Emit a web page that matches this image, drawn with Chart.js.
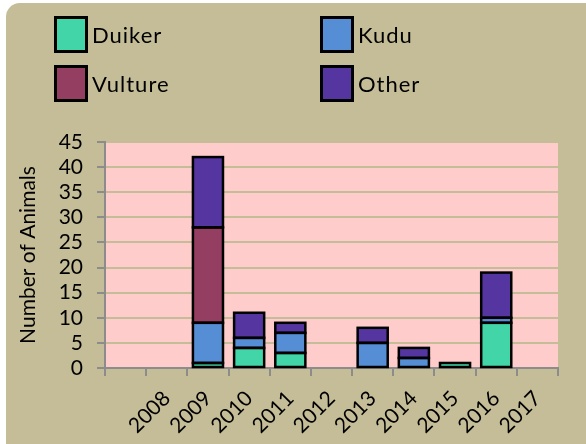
<!DOCTYPE html>
<html><head><meta charset="utf-8">
<script src="https://cdn.jsdelivr.net/npm/chart.js@4/dist/chart.umd.min.js"></script>
<style>
html,body{margin:0;padding:0;background:#fff;width:586px;height:444px;overflow:hidden;font-family:Lato,sans-serif;}
#bg{position:absolute;left:6px;top:3px;width:620px;height:480px;background:#C4BD97;border-top-left-radius:14px;}
#wrap{position:absolute;left:0;top:0;width:586px;height:444px;}
#legend{position:absolute;left:0;top:0;}
.li{position:absolute;display:flex;align-items:center;font-size:22px;letter-spacing:1px;color:#000;}
.sw{width:28px;height:31px;border:3px solid #000;margin-right:4px;box-sizing:content-box;}
</style></head>
<body>
<div id="bg"></div>
<div id="wrap"><canvas id="c" width="586" height="444"></canvas></div>
<div id="legend"></div>
<script>
const categories = ["", "2008", "2009", "2010", "2011", "2012", "2013", "2014", "2015", "2016", "2017"];
const duiker  = [null, null, 1, 4, 3, null, null, null, 1, 9, null];
const kudu    = [null, null, 8, 2, 4, null, 5, 2, null, 1, null];
const vulture = [null, null, 19, null, null, null, null, null, null, null, null];
const other   = [null, null, 14, 5, 2, null, 3, 2, null, 9, null];
const seriesNames = ["Duiker", "Kudu", "Vulture", "Other"];
const seriesColors = ["#41D5A7", "#558ED5", "#943E62", "#5535A0"];
const yTicks = [0, 5, 10, 15, 20, 25, 30, 35, 40, 45];

const seriesData = [duiker, kudu, vulture, other];
const datasets = seriesNames.map((n, i) => ({
  label: n, data: seriesData[i], backgroundColor: seriesColors[i],
  borderWidth: 0, borderSkipped: false,
  categoryPercentage: 1, barPercentage: 0.73
}));

const plotBg = {
  id: "plotBg",
  beforeDraw(chart) {
    const a = chart.chartArea, ctx = chart.ctx;
    ctx.save(); ctx.fillStyle = "#FFCCCC";
    ctx.fillRect(a.left, a.top, a.right - a.left, a.bottom - a.top);
    ctx.restore();
  }
};
const barOutline = {
  id: "barOutline",
  afterDatasetsDraw(chart) {
    const ctx = chart.ctx;
    ctx.save(); ctx.strokeStyle = "#000"; ctx.lineWidth = 2.5;
    chart.data.datasets.forEach((d, i) => {
      chart.getDatasetMeta(i).data.forEach((el, j) => {
        if (d.data[j] == null) return;
        const p = el.getProps(["x", "y", "base", "width"], true);
        ctx.strokeRect(p.x - p.width / 2, Math.min(p.y, p.base), p.width, Math.abs(p.base - p.y));
      });
    });
    ctx.restore();
  }
};

const yScaleTicks = { color: "#000", font: { family: "Lato", size: 21 }, padding: 14, stepSize: 5, autoSkip: false };

function build() {
  const chart = new Chart(document.getElementById("c"), {
    type: "bar",
    data: { labels: categories, datasets },
    plugins: [plotBg, barOutline],
    options: {
      responsive: false, animation: false,
      layout: { padding: { top: 142, right: 28, left: 0, bottom: 0 } },
      plugins: { legend: { display: false }, tooltip: { enabled: false } },
      scales: {
        x: {
          stacked: true,
          afterFit(s) { s.height = 76; },
          grid: { display: true, drawOnChartArea: false, offset: true, tickLength: 8, color: "#8C8C8C", tickColor: "#8C8C8C", lineWidth: 2 },
          border: { color: "#8C8C8C", width: 2 },
          ticks: { color: "#000", font: { family: "Lato", size: 21 }, maxRotation: 45, minRotation: 45, autoSkip: false, padding: 10 }
        },
        y: {
          stacked: true, min: yTicks[0], max: yTicks[yTicks.length - 1],
          afterFit(s) { s.width = 105; },
          grid: { color: "#C4BD97", lineWidth: 2, tickLength: 8, tickColor: "#8C8C8C" },
          border: { color: "#8C8C8C", width: 2 },
          ticks: yScaleTicks,
          title: { display: true, text: "Number of Animals", color: "#000", font: { family: "Lato", size: 21 }, padding: { top: 16, bottom: 0 } }
        }
      }
    }
  });

  const leg = document.getElementById("legend");
  const pos = [[54, 16], [320, 16], [54, 65], [320, 65]];
  chart.data.datasets.forEach((d, i) => {
    const el = document.createElement("div");
    el.className = "li";
    el.style.left = pos[i][0] + "px"; el.style.top = pos[i][1] + "px";
    el.innerHTML = '<div class="sw" style="background:' + d.backgroundColor + '"></div><span>' + d.label + '</span>';
    leg.appendChild(el);
  });
}
if (document.fonts && document.fonts.load) {
  Promise.all([document.fonts.load("20px Lato"), document.fonts.load("21px Lato")]).then(build, build);
} else build();
</script>
</body></html>
